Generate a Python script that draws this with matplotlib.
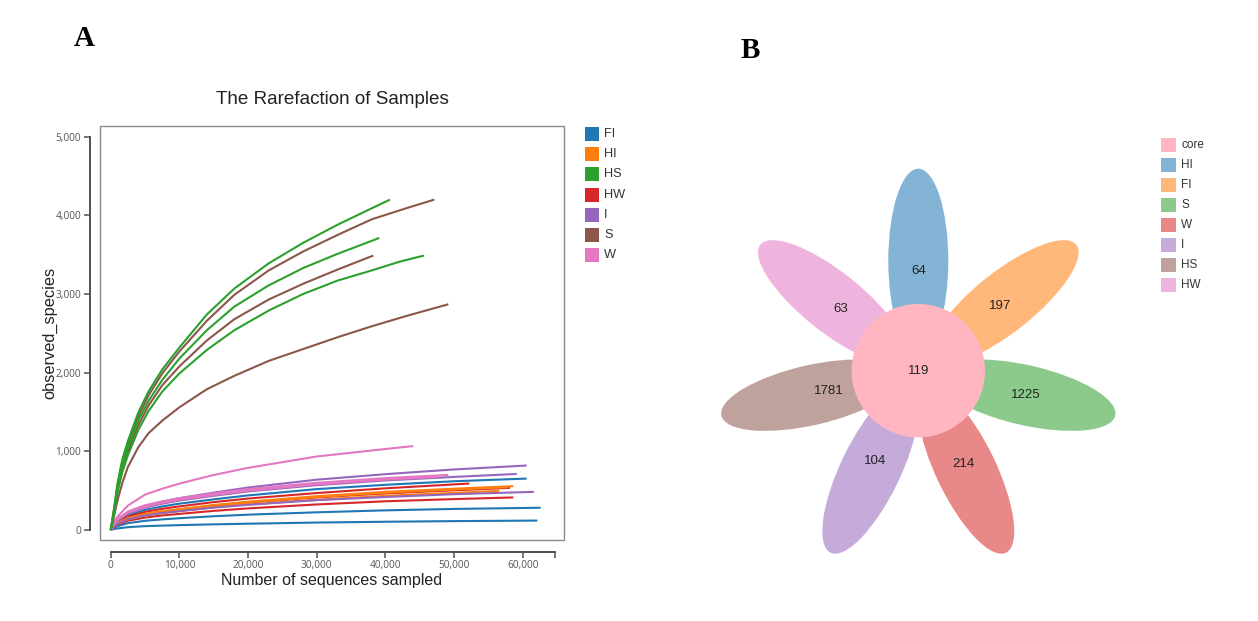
import matplotlib
matplotlib.use("Agg")
import matplotlib.pyplot as plt
from matplotlib.patches import Ellipse, Circle, Rectangle
import matplotlib.colors as mcolors
import numpy as np

# ---------------- data: rarefaction curves ----------------
groups = ["FI", "HI", "HS", "HW", "I", "S", "W"]
group_colors = ["#1f77b4", "#ff7f0e", "#2ca02c", "#d62728", "#9467bd", "#8c564b", "#e377c2"]

HS_1_x = [0, 400, 1000, 1700, 2500, 4000, 5500, 7500, 10000, 14000, 18000, 23000, 28000, 33000, 38000, 40650]
HS_1_y = [0, 220, 600, 900, 1130, 1490, 1760, 2040, 2320, 2740, 3070, 3390, 3650, 3880, 4090, 4200]
S_1_x = [0, 400, 1000, 1700, 2500, 4000, 5500, 7500, 10000, 14000, 18000, 23000, 28000, 33000, 38000, 43000, 47100]
S_1_y = [0, 210, 570, 860, 1090, 1440, 1710, 1990, 2270, 2660, 2990, 3300, 3540, 3750, 3950, 4090, 4200]
HS_2_x = [0, 400, 1000, 1700, 2500, 4000, 5500, 7500, 10000, 14000, 18000, 23000, 28000, 33000, 39100]
HS_2_y = [0, 200, 540, 820, 1050, 1390, 1640, 1907, 2180, 2540, 2840, 3110, 3330, 3510, 3713]
S_2_x = [0, 400, 1000, 1700, 2500, 4000, 5500, 7500, 10000, 14000, 18000, 23000, 28000, 33000, 38230]
S_2_y = [0, 190, 510, 780, 1000, 1330, 1580, 1840, 2080, 2410, 2680, 2930, 3130, 3310, 3489]
HS_3_x = [0, 400, 1000, 1700, 2500, 4000, 5500, 7500, 10000, 14000, 18000, 23000, 28000, 33000, 38000, 42000, 45600]
HS_3_y = [0, 180, 480, 740, 950, 1270, 1510, 1760, 1990, 2290, 2540, 2790, 3000, 3170, 3300, 3410, 3489]
S_3_x = [0, 400, 1000, 1700, 2500, 4000, 5500, 7500, 10000, 14000, 18000, 23000, 28000, 33000, 38000, 43000, 49150]
S_3_y = [0, 140, 380, 600, 800, 1050, 1230, 1390, 1560, 1790, 1960, 2150, 2300, 2450, 2590, 2720, 2870]

W_1_x = [0, 400, 1000, 2500, 5000, 7500, 10000, 15000, 20000, 30000, 40000, 44050]
W_1_y = [0, 90, 170, 310, 450, 525, 590, 700, 790, 935, 1030, 1067]
W_2_x = [0, 400, 1000, 2500, 5000, 7500, 10000, 15000, 20000, 30000, 40000, 49150]
W_2_y = [0, 75, 140, 235, 315, 365, 405, 465, 520, 600, 660, 700]
W_3_x = [0, 400, 1000, 2500, 5000, 7500, 10000, 15000, 20000, 30000, 40000, 47700]
W_3_y = [0, 70, 130, 220, 295, 345, 385, 445, 500, 580, 640, 675]
I_1_x = [0, 400, 1000, 2500, 5000, 7500, 10000, 15000, 20000, 30000, 40000, 50000, 60550]
I_1_y = [0, 70, 130, 225, 305, 360, 405, 475, 540, 640, 710, 770, 820]
I_2_x = [0, 400, 1000, 2500, 5000, 7500, 10000, 15000, 20000, 30000, 40000, 50000, 59100]
I_2_y = [0, 65, 120, 205, 285, 335, 375, 435, 490, 570, 630, 675, 713]
I_3_x = [0, 400, 1000, 2500, 5000, 7500, 10000, 15000, 20000, 30000, 40000, 50000, 61600]
I_3_y = [0, 45, 80, 135, 185, 215, 240, 285, 320, 380, 420, 455, 485]
FI_1_x = [0, 400, 1000, 2500, 5000, 7500, 10000, 15000, 20000, 30000, 40000, 50000, 60550]
FI_1_y = [0, 60, 110, 185, 255, 300, 335, 390, 440, 520, 575, 620, 654]
FI_2_x = [0, 400, 1000, 2500, 5000, 7500, 10000, 15000, 20000, 30000, 40000, 50000, 62590]
FI_2_y = [0, 28, 50, 87, 117, 135, 150, 175, 195, 225, 250, 268, 283]
FI_3_x = [0, 400, 1000, 2500, 5000, 7500, 10000, 15000, 20000, 30000, 40000, 50000, 62100]
FI_3_y = [0, 11, 20, 36, 49, 56, 62, 72, 80, 95, 105, 113, 120]
HW_1_x = [0, 400, 1000, 2500, 5000, 7500, 10000, 15000, 20000, 30000, 40000, 50000, 52200]
HW_1_y = [0, 55, 100, 170, 230, 270, 300, 355, 400, 470, 530, 580, 591]
HW_2_x = [0, 400, 1000, 2500, 5000, 7500, 10000, 15000, 20000, 30000, 40000, 50000, 58120]
HW_2_y = [0, 47, 85, 145, 200, 233, 260, 310, 350, 415, 465, 505, 536]
HW_3_x = [0, 400, 1000, 2500, 5000, 7500, 10000, 15000, 20000, 30000, 40000, 50000, 58600]
HW_3_y = [0, 38, 70, 118, 158, 185, 205, 243, 275, 325, 365, 393, 414]
HI_1_x = [0, 400, 1000, 2500, 5000, 7500, 10000, 15000, 20000, 30000, 40000, 50000, 58600]
HI_1_y = [0, 50, 90, 150, 205, 240, 265, 318, 360, 430, 485, 525, 557]
HI_2_x = [0, 400, 1000, 2500, 5000, 7500, 10000, 15000, 20000, 30000, 40000, 50000, 57800]
HI_2_y = [0, 48, 88, 147, 200, 235, 260, 312, 352, 420, 475, 515, 545]
HI_3_x = [0, 400, 1000, 2500, 5000, 7500, 10000, 15000, 20000, 30000, 40000, 50000, 56570]
HI_3_y = [0, 44, 80, 135, 184, 215, 240, 288, 325, 385, 435, 472, 498]

curves = [
    ("FI", FI_1_x, FI_1_y), ("FI", FI_2_x, FI_2_y), ("FI", FI_3_x, FI_3_y),
    ("HW", HW_1_x, HW_1_y), ("HW", HW_2_x, HW_2_y), ("HW", HW_3_x, HW_3_y),
    ("HI", HI_1_x, HI_1_y), ("HI", HI_2_x, HI_2_y), ("HI", HI_3_x, HI_3_y),
    ("I", I_1_x, I_1_y), ("I", I_2_x, I_2_y), ("I", I_3_x, I_3_y),
    ("W", W_1_x, W_1_y), ("W", W_2_x, W_2_y), ("W", W_3_x, W_3_y),
    ("S", S_1_x, S_1_y), ("S", S_2_x, S_2_y), ("S", S_3_x, S_3_y),
    ("HS", HS_1_x, HS_1_y), ("HS", HS_2_x, HS_2_y), ("HS", HS_3_x, HS_3_y),
]

x_ticks = [0, 10000, 20000, 30000, 40000, 50000, 60000]
y_ticks = [0, 1000, 2000, 3000, 4000, 5000]

# ---------------- data: flower plot ----------------
petal_names = ["HI", "FI", "S", "W", "I", "HS", "HW"]
petal_counts = [64, 197, 1225, 214, 104, 1781, 63]
core_count = 119
petal_colors = ["#1f77b4", "#ff7f0e", "#2ca02c", "#d62728", "#9467bd", "#8c564b", "#e377c2"]
core_color = "#ffb6c1"

# ---------------- figure ----------------
W, H = 1258, 621
fig = plt.figure(figsize=(W / 100, H / 100), dpi=100)
fig.patch.set_facecolor("white")
SANS = ["Liberation Sans", "DejaVu Sans"]


def fx(px):
    return px / W


def fy(py):
    return 1 - py / H


# ---- panel A ----
ax = fig.add_axes([fx(100), fy(540), fx(564) - fx(100), fy(126) - fy(540)])
ax.set_facecolor("none")
ax.set_xlim(-1557, 65983)
ax.set_ylim(-127, 5136)

color_of = dict(zip(groups, group_colors))
for g, xs, ys in curves:
    ax.plot(xs, ys, color=color_of[g], lw=1.5, solid_capstyle="butt",
            solid_joinstyle="round", zorder=3)

ax.add_patch(Rectangle((0, 0), 1, 1, transform=ax.transAxes, fill=False,
                       ec="#8a8a8a", lw=1.0, clip_on=False, zorder=1))
for s in ["top", "right"]:
    ax.spines[s].set_visible(False)
ax.spines["left"].set_position(("outward", 7.2))
ax.spines["bottom"].set_position(("outward", 8.4))
ax.spines["left"].set_bounds(0, 5000)
x_axis_end = 64670
ax.spines["bottom"].set_bounds(0, x_axis_end)
for s in ["left", "bottom"]:
    ax.spines[s].set_color("#505050")
    ax.spines[s].set_linewidth(1.4)

ax.set_yticks(y_ticks)
ax.set_yticklabels([f"{v:,}" for v in y_ticks])
ax.set_xticks(x_ticks + [x_axis_end])
ax.set_xticklabels([f"{v:,}" for v in x_ticks] + [""])
ax.tick_params(axis="both", direction="out", length=4.5, width=1.1, color="#505050",
               labelsize=7.3, labelcolor="#555555", pad=1.8)
for lbl in ax.get_xticklabels() + ax.get_yticklabels():
    lbl.set_fontfamily(["Open Sans", "DejaVu Sans"])

fig.text(fx(332), fy(100), "The Rarefaction of Samples", ha="center", va="center",
         fontsize=13.6, color="#222222", family=SANS)
fig.text(fx(332), fy(581), "Number of sequences sampled", ha="center", va="center",
         fontsize=11.5, color="#222222", family=SANS)
fig.text(fx(50), fy(333), "observed_species", ha="center", va="center", rotation=90,
         fontsize=11.8, color="#222222", family=SANS)

# legend A
for i, (g, c) in enumerate(zip(groups, group_colors)):
    yc = 134 + 20.2 * i
    fig.add_artist(Rectangle((fx(585), fy(yc + 7)), fx(14), 14 / H,
                             transform=fig.transFigure, fc=c, ec="none"))
    fig.text(fx(604), fy(yc), g, ha="left", va="center", fontsize=9.2,
             color="#333333", family=SANS)

# ---- panel B ----
cx, cy = 918.3, 370.7
axB = fig.add_axes([fx(700), fy(590), fx(1140) - fx(700), fy(150) - fy(590)])
axB.set_xlim(700 - cx, 1140 - cx)
axB.set_ylim(cy - 590, cy - 150)
axB.set_aspect("equal")
axB.axis("off")

n = len(petal_names)
petal_dist, petal_len, petal_wid, core_r = 110, 184, 60, 66.7
label_dist = [100, 104, 110, 104, 100, 92, 99]
for i, (name, cnt, col) in enumerate(zip(petal_names, petal_counts, petal_colors)):
    th = 90 - i * 360 / n
    t = np.deg2rad(th)
    axB.add_patch(Ellipse((petal_dist * np.cos(t), petal_dist * np.sin(t)), petal_len,
                          petal_wid, angle=th, fc=col, alpha=0.55, ec="none", zorder=1))
    axB.text(label_dist[i] * np.cos(t), label_dist[i] * np.sin(t), str(cnt), ha="center",
             va="center", fontsize=9.5, color="#222222", family=SANS, zorder=4)
axB.add_patch(Circle((0, 0), core_r, fc=core_color, ec="none", zorder=2))
axB.text(0, 0, str(core_count), ha="center", va="center", fontsize=9.5,
         color="#222222", family=SANS, zorder=4)

# legend B
leg_names = ["core"] + petal_names
leg_cols = [core_color] + [mcolors.to_rgba(c, 0.55) for c in petal_colors]
for i, (nm, c) in enumerate(zip(leg_names, leg_cols)):
    yc = 145 + 20 * i
    rgba = mcolors.to_rgba(c)
    fig.add_artist(Rectangle((fx(1161), fy(yc + 7)), fx(15), 14 / H,
                             transform=fig.transFigure, fc=rgba, ec="none"))
    fig.text(fx(1181), fy(yc), nm, ha="left", va="center", fontsize=8.5,
             color="#333333", family=SANS)

# panel letters
fig.text(fx(84), fy(38), "A", ha="center", va="center", fontsize=21, weight="bold",
         family=["Liberation Serif", "DejaVu Serif"])
fig.text(fx(750), fy(51), "B", ha="center", va="center", fontsize=21, weight="bold",
         family=["Liberation Serif", "DejaVu Serif"])

fig.savefig("out.png", dpi=100, facecolor="white")
